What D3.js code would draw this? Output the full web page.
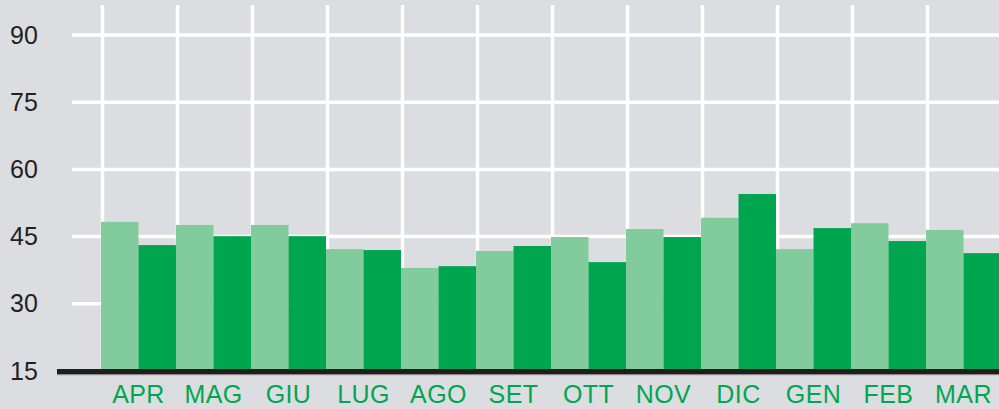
<html lang="en"><head>
<meta charset="utf-8">
<script src="https://d3js.org/d3.v7.min.js"></script>
<style>
  body { margin: 0; background: #dcdde0; }
  svg { display: block; }
  .ylab { font: 25px "Liberation Sans", Arial, sans-serif; fill: #222; }
  .xlab { font: 25px "Liberation Sans", Arial, sans-serif; fill: #00a651; letter-spacing: 0.4px; }
</style>
</head><body>
<div id="chart"></div>
<script>
// months (Italian, fiscal year Apr-Mar)
var months = ["APR", "MAG", "GIU", "LUG", "AGO", "SET", "OTT", "NOV", "DIC", "GEN", "FEB", "MAR"];
var seriesLight = [48.3, 47.6, 47.6, 42.2, 38.0, 41.8, 44.9, 46.7, 49.2, 42.2, 48.0, 46.5];
var seriesDark  = [43.1, 45.1, 45.1, 42.0, 38.4, 42.9, 39.3, 44.9, 54.5, 46.9, 44.0, 41.3];
var yTicks = [15, 30, 45, 60, 75, 90];

var width = 999, height = 409;

var svg = d3.select("#chart")
    .append("svg")
    .attr("width", width)
    .attr("height", height);

svg.append("rect")
    .attr("width", width).attr("height", height)
    .attr("fill", "#dcdde0");

var x = d3.scaleBand()
    .domain(months)
    .range([101, 1001])
    .paddingInner(0);

var xSub = d3.scaleBand()
    .domain(["light", "dark"])
    .range([0, x.bandwidth()]);

var y = d3.scaleLinear()
    .domain([15, 90])
    .range([371, 35]);

// horizontal grid
svg.append("g")
    .selectAll("line")
    .data(yTicks.filter(d => d > 15))
    .join("line")
    .attr("x1", 72).attr("x2", width)
    .attr("y1", d => y(d)).attr("y2", d => y(d))
    .attr("stroke", "#fff")
    .attr("stroke-width", 3.5);

// vertical grid
svg.append("g")
    .selectAll("line")
    .data(months)
    .join("line")
    .attr("x1", d => x(d) + 1.5).attr("x2", d => x(d) + 1.5)
    .attr("y1", 5).attr("y2", y(15))
    .attr("stroke", "#fff")
    .attr("stroke-width", 3.5);

var rows = months.map((m, i) => ({ m: m, light: seriesLight[i], dark: seriesDark[i] }));

var groups = svg.append("g")
    .selectAll("g")
    .data(rows)
    .join("g")
    .attr("transform", d => "translate(" + x(d.m) + ",0)");

groups.append("rect")
    .attr("x", xSub("light"))
    .attr("width", xSub.bandwidth())
    .attr("y", d => y(d.light))
    .attr("height", d => y(15) - y(d.light))
    .attr("fill", "#82cb9c");

groups.append("rect")
    .attr("x", xSub("dark"))
    .attr("width", xSub.bandwidth())
    .attr("y", d => y(d.dark))
    .attr("height", d => y(15) - y(d.dark))
    .attr("fill", "#00a54f");

// baseline
svg.append("rect")
    .attr("x", 57).attr("y", y(15) - 2)
    .attr("width", width - 57).attr("height", 5)
    .attr("fill", "#1e1e1e");
svg.append("rect")
    .attr("x", 57).attr("y", y(15) + 3)
    .attr("width", width - 57).attr("height", 1.2)
    .attr("fill", "#8a8a8a");

// y labels
svg.append("g")
    .selectAll("text")
    .data(yTicks)
    .join("text")
    .attr("class", "ylab")
    .attr("x", 10)
    .attr("y", d => y(d) + 8.5)
    .text(d => d);

// x labels
svg.append("g")
    .selectAll("text")
    .data(months)
    .join("text")
    .attr("class", "xlab")
    .attr("text-anchor", "middle")
    .attr("x", d => x(d) + x.bandwidth() / 2)
    .attr("y", 403)
    .text(d => d);
</script>
</body></html>
